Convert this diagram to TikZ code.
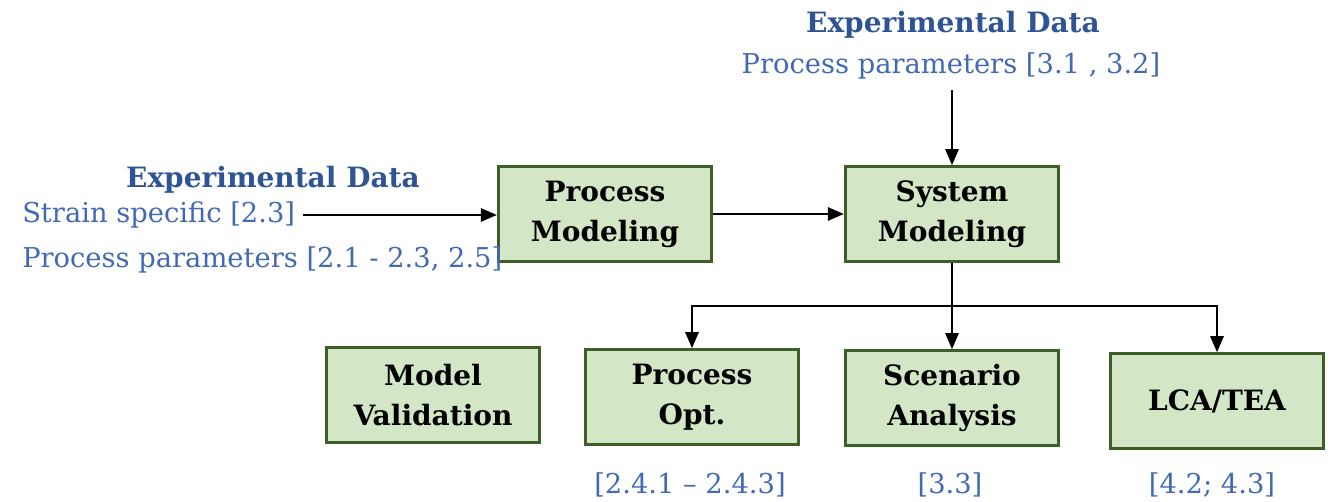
\documentclass[tikz,border=0pt]{standalone}
\usepackage{fontspec}
\setmainfont{DejaVu Serif}
\usepackage{xcolor}
\usepackage{tikz}
\usetikzlibrary{positioning, arrows.meta, calc}
\definecolor{boxfill}{HTML}{D3E6C5}
\definecolor{boxline}{HTML}{3E5E27}
\definecolor{headblue}{HTML}{2F5496}
\definecolor{refblue}{HTML}{4169B4}
\tikzset{
  modbox/.style={draw=boxline, fill=boxfill, line width=2.2pt, align=center,
                 minimum width=160pt, minimum height=71pt, text=black,
                 font=\fontsize{21}{30}\selectfont\bfseries},
  headtxt/.style={text=headblue, font=\fontsize{21}{24}\selectfont\bfseries, inner sep=0pt},
  reftxt/.style={text=refblue, font=\fontsize{20.5}{24}\selectfont, inner sep=0pt},
  arr/.style={-{Triangle[length=12pt, width=10pt]}, draw=black, line width=1.4pt},
}
\begin{document}
\begin{tikzpicture}[x=0.75pt, y=0.75pt]
  \useasboundingbox (0,0) rectangle (1332,502);
  \node[modbox] (pm) at (605,288) {Process\\Modeling};
  \node[modbox] (sm) at (952,288) {System\\Modeling};
  \node[modbox] (mv) at (433,107) {Model\\Validation};
  \node[modbox] (po) at (692,105) {Process\\Opt.};
  \node[modbox] (sa) at (952,104) {Scenario\\Analysis};
  \node[modbox] (lca) at (1217,101) {LCA/TEA};
  \node[headtxt] (lhead) at (273,322) {Experimental Data};
  \node[reftxt, anchor=west] (strain) at (22,287) {Strain specific [2.3]};
  \node[reftxt, anchor=west] (lpar) at (22,242) {Process parameters [2.1 - 2.3, 2.5]};
  \node[headtxt] (thead) at (953,477) {Experimental Data};
  \node[reftxt] (tpar) at (951,436) {Process parameters [3.1 , 3.2]};
  \node[reftxt] (poref) at (690,17) {[2.4.1 -- 2.4.3]};
  \node[reftxt] (saref) at (950,17) {[3.3]};
  \node[reftxt] (lcaref) at (1212,17) {[4.2; 4.3]};
  \coordinate (split) at ($(sm.south)!0.5!(sa.north)$);
  \draw[arr] ([xshift=6pt]strain.east) -- (strain.east -| pm.west);
  \draw[arr] (pm.east) -- (sm.west);
  \draw[arr] ([yshift=-8pt]tpar.south -| sm.north) -- (sm.north);
  \draw[arr] (sm.south) -- (sa.north);
  \draw[arr] (split) -| (po.north);
  \draw[arr] (split) -| (lca.north);
\end{tikzpicture}
\end{document}
